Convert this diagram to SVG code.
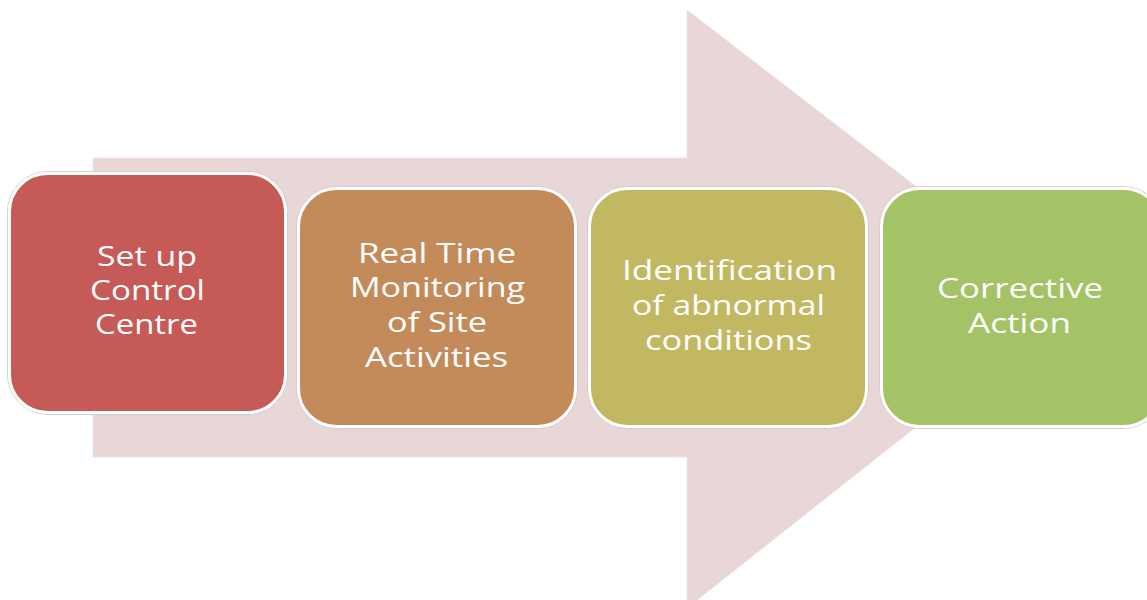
<svg xmlns="http://www.w3.org/2000/svg" width="1147" height="600" viewBox="0 0 1147 600">
<style>
.bg{fill:#FFFFFF}
.arrow{fill:#E9D6D6;stroke:#EFE2E2;stroke-width:1}
.halo{fill:none;stroke:#D0D0D0;stroke-width:1}
.box{stroke:#FFFFFF;stroke-width:3}
.t{font-family:"Open Sans","DejaVu Sans",sans-serif;font-size:27px;fill:#FFFFFF}
</style>
<rect class="bg" x="0" y="0" width="1147" height="600"/>
<g id="arrow">
<polygon class="arrow" points="93,158 687,158 687,10 1070,305 687,608 687,457 93,457"/>
</g>
<g id="connectors"></g>
<g id="node1">
<rect class="halo" x="7.5" y="171.5" width="280" height="243" rx="40"/>
<rect class="box" x="9.5" y="173.5" width="276" height="239" rx="38" fill="#C55A57"/>
<text class="t" x="97" y="266" textLength="100" lengthAdjust="spacingAndGlyphs">Set up</text>
<text class="t" x="90" y="300" textLength="115" lengthAdjust="spacingAndGlyphs">Control</text>
<text class="t" x="95" y="334" textLength="103" lengthAdjust="spacingAndGlyphs">Centre</text>
</g>
<g id="node2">
<rect class="halo" x="296.5" y="186.5" width="281" height="242" rx="40"/>
<rect class="box" x="298.5" y="188.5" width="277" height="238" rx="38" fill="#C48B5A"/>
<text class="t" x="358" y="263" textLength="158" lengthAdjust="spacingAndGlyphs">Real Time</text>
<text class="t" x="350" y="297" textLength="175" lengthAdjust="spacingAndGlyphs">Monitoring</text>
<text class="t" x="387" y="332" textLength="100" lengthAdjust="spacingAndGlyphs">of Site</text>
<text class="t" x="365" y="367" textLength="143" lengthAdjust="spacingAndGlyphs">Activities</text>
</g>
<g id="node3">
<rect class="halo" x="587.5" y="186.5" width="281" height="242" rx="40"/>
<rect class="box" x="589.5" y="188.5" width="277" height="238" rx="38" fill="#C3B862"/>
<text class="t" x="622" y="280" textLength="215" lengthAdjust="spacingAndGlyphs">Identification</text>
<text class="t" x="632" y="315" textLength="193" lengthAdjust="spacingAndGlyphs">of abnormal</text>
<text class="t" x="645" y="350" textLength="167" lengthAdjust="spacingAndGlyphs">conditions</text>
</g>
<g id="node4">
<rect class="halo" x="879.5" y="186.5" width="284" height="242" rx="40"/>
<rect class="box" x="881.5" y="188.5" width="280" height="238" rx="38" fill="#A4C266"/>
<text class="t" x="937" y="298" textLength="166" lengthAdjust="spacingAndGlyphs">Corrective</text>
<text class="t" x="968" y="333" textLength="103" lengthAdjust="spacingAndGlyphs">Action</text>
</g>
</svg>
